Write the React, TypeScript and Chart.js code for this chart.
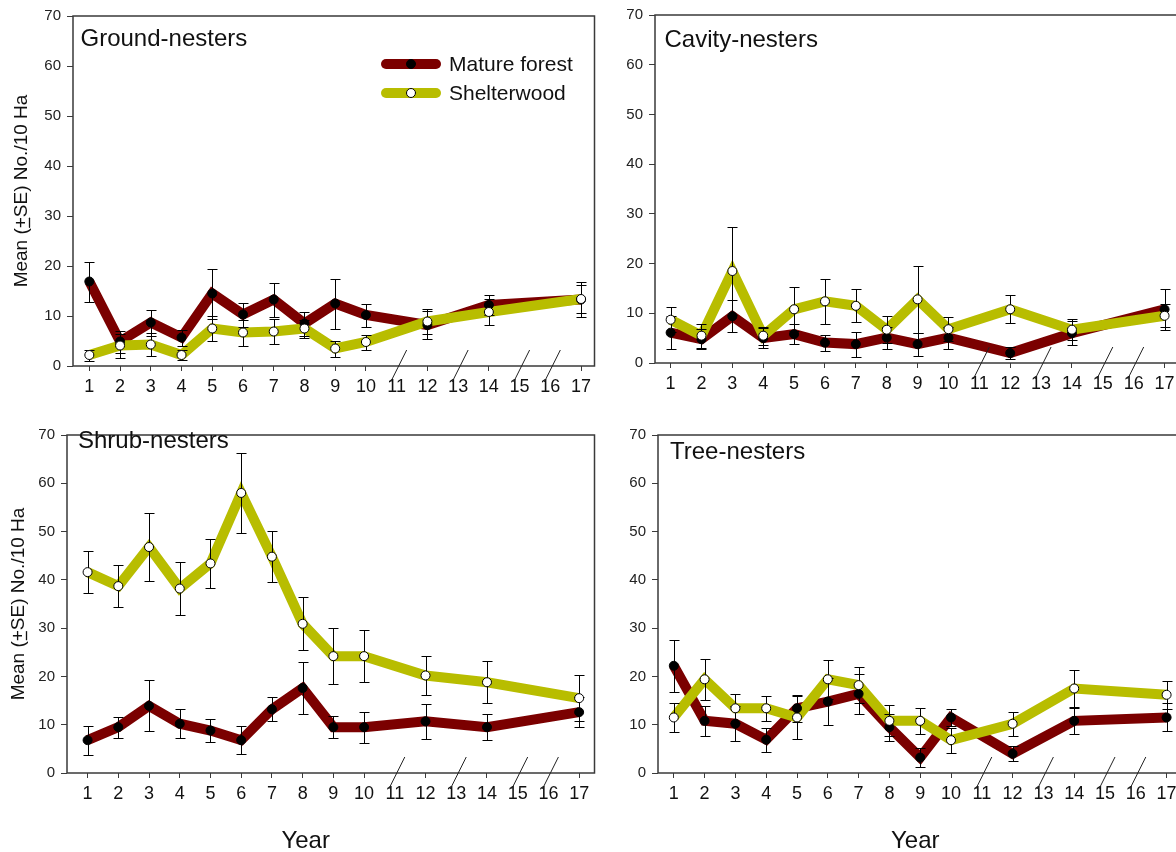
import React, { useEffect, useRef } from "react";
import { Chart, registerables } from "chart.js";

Chart.register(...registerables);

// ---- data ----
const years = [1, 2, 3, 4, 5, 6, 7, 8, 9, 10, 12, 14, 17];
const yearTickLabels = [1, 2, 3, 4, 5, 6, 7, 8, 9, 10, 11, 12, 13, 14, 15, 16, 17];
const missingYears = [11, 13, 15, 16];
const yTickValues = [0, 10, 20, 30, 40, 50, 60, 70];

const seriesNames = ["Mature forest", "Shelterwood"];
const panelTitles = ["Ground-nesters", "Cavity-nesters", "Shrub-nesters", "Tree-nesters"];
const yAxisTitle = ["Mean (", "+", "SE) No./10 Ha"];
const xAxisTitle = "Year";

const groundMature = [16.9, 4.9, 8.7, 5.7, 14.5, 10.3, 13.3, 8.5, 12.5, 10.2, 8.2, 12.2, 13.3];
const groundMatureSE = [4.0, 2.2, 2.6, 1.6, 5.0, 2.4, 3.4, 2.4, 5.0, 2.3, 2.8, 2.0, 3.5];
const groundShelter = [2.2, 4.1, 4.3, 2.2, 7.5, 6.7, 6.9, 7.5, 3.5, 4.8, 8.9, 10.8, 13.4];
const groundShelterSE = [1.1, 2.4, 2.3, 1.0, 2.5, 2.6, 2.5, 1.8, 1.6, 1.5, 2.5, 2.6, 2.8];

const cavityMature = [6.1, 4.8, 9.4, 5.0, 5.8, 4.1, 3.8, 5.1, 3.8, 5.1, 2.0, 6.0, 10.8];
const cavityMatureSE = [3.3, 2.0, 3.2, 2.0, 2.0, 1.6, 2.5, 2.2, 2.3, 2.2, 1.2, 2.4, 4.1];
const cavityShelter = [8.7, 5.5, 18.5, 5.5, 10.8, 12.4, 11.5, 6.7, 12.8, 6.8, 10.8, 6.7, 9.5];
const cavityShelterSE = [2.5, 2.4, 8.8, 1.8, 4.4, 4.5, 3.3, 2.7, 6.7, 2.4, 2.8, 2.1, 2.3];

const shrubMature = [6.8, 9.5, 13.9, 10.2, 8.8, 6.8, 13.2, 17.6, 9.5, 9.5, 10.7, 9.5, 12.6];
const shrubMatureSE = [3.0, 2.2, 5.3, 3.0, 2.4, 2.9, 2.5, 5.3, 2.3, 3.2, 3.6, 2.7, 3.1];
const shrubShelter = [41.6, 38.7, 46.8, 38.2, 43.4, 58.0, 44.8, 30.9, 24.2, 24.2, 20.2, 18.8, 15.5];
const shrubShelterSE = [4.3, 4.4, 7.0, 5.5, 5.0, 8.2, 5.3, 5.5, 5.8, 5.4, 4.1, 4.4, 4.8];

const treeMature = [22.2, 10.8, 10.2, 6.9, 13.4, 14.8, 16.4, 9.5, 3.2, 11.5, 4.0, 10.8, 11.5];
const treeMatureSE = [5.4, 3.1, 3.6, 2.5, 2.8, 4.8, 4.2, 2.8, 2.0, 1.7, 1.6, 2.7, 2.9];
const treeShelter = [11.5, 19.4, 13.4, 13.4, 11.5, 19.4, 18.2, 10.8, 10.8, 6.8, 10.2, 17.5, 16.2];
const treeShelterSE = [3.1, 4.3, 3.0, 2.6, 4.4, 4.0, 3.7, 3.2, 2.7, 2.6, 2.5, 3.8, 2.9];

// ---- styles ----
const FONT = '"Liberation Sans", Arial, Helvetica, sans-serif';
const MATURE_COLOR = "#7b0000";
const SHELTER_COLOR = "#b8bd00";
const AXIS_COLOR = "#3a3a3a";
const TEXT_COLOR = "#111111";

type Box = { left: number; top: number; width: number; height: number };
type Area = { left: number; top: number; right: number; bottom: number };
type Panel = {
  title: string;
  mature: number[];
  matureSE: number[];
  shelter: number[];
  shelterSE: number[];
  box: Box;
  area: Area;
  xMin: number;
  xMax: number;
  titlePos: [number, number];
  yTitleX: number | null;
  yearAt: number | null;
  legend: boolean;
};

const panels: Panel[] = [
  {
    title: panelTitles[0],
    mature: groundMature, matureSE: groundMatureSE,
    shelter: groundShelter, shelterSE: groundShelterSE,
    box: { left: 0, top: 0, width: 600, height: 420 },
    area: { left: 73, top: 16, right: 597, bottom: 366 },
    xMin: 0.469, xMax: 17.437,
    titlePos: [80.5, 45.5],
    yTitleX: 20,
    yearAt: null,
    legend: true,
  },
  {
    title: panelTitles[1],
    mature: cavityMature, matureSE: cavityMatureSE,
    shelter: cavityShelter, shelterSE: cavityShelterSE,
    box: { left: 600, top: 0, width: 600, height: 420 },
    area: { left: 655, top: 14, right: 1180, bottom: 363 },
    xMin: 0.494, xMax: 17.5,
    titlePos: [664.5, 46.5],
    yTitleX: null,
    yearAt: null,
    legend: false,
  },
  {
    title: panelTitles[2],
    mature: shrubMature, matureSE: shrubMatureSE,
    shelter: shrubShelter, shelterSE: shrubShelterSE,
    box: { left: 0, top: 420, width: 600, height: 432 },
    area: { left: 67, top: 424, right: 598, bottom: 773 },
    xMin: 0.33, xMax: 17.5,
    titlePos: [78, 448],
    yTitleX: 17,
    yearAt: 8.1,
    legend: false,
  },
  {
    title: panelTitles[3],
    mature: treeMature, matureSE: treeMatureSE,
    shelter: treeShelter, shelterSE: treeShelterSE,
    box: { left: 600, top: 420, width: 600, height: 432 },
    area: { left: 658, top: 424, right: 1182, bottom: 773 },
    xMin: 0.487, xMax: 17.5,
    titlePos: [670, 459],
    yTitleX: null,
    yearAt: 8.84,
    legend: false,
  },
];

function drawMarker(ctx: CanvasRenderingContext2D, x: number, y: number, filled: boolean) {
  ctx.beginPath();
  ctx.arc(x, y, 4.5, 0, Math.PI * 2);
  ctx.fillStyle = filled ? "#000" : "#fff";
  ctx.fill();
  ctx.lineWidth = 1;
  ctx.strokeStyle = "#000";
  ctx.stroke();
}

function makeOverlay(p: Panel) {
  const ox = p.box.left;
  const oy = p.box.top;
  return {
    id: "panelOverlay",
    afterDatasetDraw(chart: any, args: any) {
      // error bars sit above both lines and below the markers
      if (args.index !== 1) return;
      const ctx: CanvasRenderingContext2D = chart.ctx;
      const xs = chart.scales.x;
      const ys = chart.scales.y;
      ctx.save();
      ctx.strokeStyle = "#000";
      ctx.lineWidth = 1;
      const groups: [number[], number[]][] = [
        [p.mature, p.matureSE],
        [p.shelter, p.shelterSE],
      ];
      groups.forEach(([vals, ses]) => {
        vals.forEach((v, i) => {
          const x = Math.round(xs.getPixelForValue(years[i])) + 0.5;
          const yt = Math.round(ys.getPixelForValue(v + ses[i])) + 0.5;
          const yb = Math.round(ys.getPixelForValue(Math.max(0, v - ses[i]))) + 0.5;
          ctx.beginPath();
          ctx.moveTo(x, yt);
          ctx.lineTo(x, yb);
          ctx.moveTo(x - 5, yt);
          ctx.lineTo(x + 5, yt);
          ctx.moveTo(x - 5, yb);
          ctx.lineTo(x + 5, yb);
          ctx.stroke();
        });
      });
      ctx.restore();
    },
    afterDraw(chart: any) {
      const ctx: CanvasRenderingContext2D = chart.ctx;
      const a = chart.chartArea;
      const xs = chart.scales.x;
      ctx.save();

      // frame
      ctx.strokeStyle = AXIS_COLOR;
      ctx.lineWidth = 1.5;
      ctx.strokeRect(a.left, a.top, a.right - a.left, a.bottom - a.top);

      // break marks over the skipped years
      ctx.strokeStyle = "#222";
      ctx.lineWidth = 1;
      missingYears.forEach((yr) => {
        const x = xs.getPixelForValue(yr);
        ctx.beginPath();
        ctx.moveTo(x - 6, a.bottom + 16);
        ctx.lineTo(x + 10, a.bottom - 16);
        ctx.stroke();
      });

      // panel title
      ctx.fillStyle = TEXT_COLOR;
      ctx.font = `24px ${FONT}`;
      ctx.textAlign = "left";
      ctx.textBaseline = "alphabetic";
      ctx.fillText(p.title, p.titlePos[0] - ox, p.titlePos[1] - oy);

      // legend
      if (p.legend) {
        const rows: [number, string, boolean, string][] = [
          [64, MATURE_COLOR, true, seriesNames[0]],
          [93, SHELTER_COLOR, false, seriesNames[1]],
        ];
        rows.forEach(([ry, color, filled, label]) => {
          const y = ry - oy;
          ctx.beginPath();
          ctx.lineCap = "round";
          ctx.lineWidth = 10;
          ctx.strokeStyle = color;
          ctx.moveTo(386 - ox, y);
          ctx.lineTo(436 - ox, y);
          ctx.stroke();
          drawMarker(ctx, 411 - ox, y, filled);
          ctx.fillStyle = TEXT_COLOR;
          ctx.font = `21px ${FONT}`;
          ctx.textBaseline = "middle";
          ctx.fillText(label, 449 - ox, y + 1);
        });
      }

      // rotated y-axis title with underlined plus sign
      if (p.yTitleX !== null) {
        ctx.font = `19px ${FONT}`;
        ctx.textBaseline = "alphabetic";
        ctx.textAlign = "left";
        const [a1, a2, a3] = yAxisTitle;
        const w1 = ctx.measureText(a1).width;
        const w2 = ctx.measureText(a2).width;
        const w3 = ctx.measureText(a3).width;
        const total = w1 + w2 + w3;
        const cy = (a.top + a.bottom) / 2;
        ctx.translate(p.yTitleX - ox, cy);
        ctx.rotate(-Math.PI / 2);
        const base = 7;
        const x0 = -total / 2;
        ctx.fillStyle = TEXT_COLOR;
        ctx.fillText(a1, x0, base);
        ctx.fillText(a2, x0 + w1, base);
        ctx.fillText(a3, x0 + w1 + w2, base);
        ctx.strokeStyle = TEXT_COLOR;
        ctx.lineWidth = 1.3;
        ctx.beginPath();
        ctx.moveTo(x0 + w1 + 1, base + 2.5);
        ctx.lineTo(x0 + w1 + w2 - 1, base + 2.5);
        ctx.stroke();
        ctx.setTransform(1, 0, 0, 1, 0, 0);
      }

      // x-axis title
      if (p.yearAt !== null) {
        ctx.font = `24px ${FONT}`;
        ctx.textAlign = "center";
        ctx.textBaseline = "alphabetic";
        ctx.fillStyle = TEXT_COLOR;
        ctx.fillText(xAxisTitle, xs.getPixelForValue(p.yearAt), 848 - oy);
      }
      ctx.restore();
    },
  };
}

function PanelChart({ p }: { p: Panel }) {
  const ref = useRef<HTMLCanvasElement | null>(null);

  useEffect(() => {
    if (!ref.current) return;
    const toPoints = (vals: number[]) => vals.map((v, i) => ({ x: years[i], y: v }));
    const chart = new Chart(ref.current, {
      type: "line",
      data: {
        datasets: [
          {
            label: seriesNames[0],
            data: toPoints(p.mature),
            borderColor: MATURE_COLOR,
            borderWidth: 10,
            pointRadius: 0,
            tension: 0,
            order: 4,
          },
          {
            label: seriesNames[1],
            data: toPoints(p.shelter),
            borderColor: SHELTER_COLOR,
            borderWidth: 10,
            pointRadius: 0,
            tension: 0,
            order: 3,
          },
          {
            label: seriesNames[0] + " points",
            data: toPoints(p.mature),
            showLine: false,
            pointRadius: 4.5,
            pointBackgroundColor: "#000",
            pointBorderColor: "#000",
            pointBorderWidth: 1,
            order: 2,
          },
          {
            label: seriesNames[1] + " points",
            data: toPoints(p.shelter),
            showLine: false,
            pointRadius: 4.5,
            pointBackgroundColor: "#fff",
            pointBorderColor: "#000",
            pointBorderWidth: 1,
            order: 1,
          },
        ],
      },
      options: {
        responsive: false,
        animation: false,
        devicePixelRatio: 1,
        layout: {
          padding: {
            left: 0,
            top: p.area.top - p.box.top,
            right: p.box.left + p.box.width - p.area.right,
            bottom: 0,
          },
        },
        plugins: {
          legend: { display: false },
          title: { display: false },
          tooltip: { enabled: false },
        },
        scales: {
          x: {
            type: "linear",
            min: p.xMin,
            max: p.xMax,
            afterBuildTicks: (s: any) => {
              s.ticks = yearTickLabels.map((v) => ({ value: v }));
            },
            afterFit: (s: any) => {
              s.height = p.box.top + p.box.height - p.area.bottom;
            },
            grid: {
              drawOnChartArea: false,
              drawTicks: true,
              tickLength: 5,
              tickWidth: 1,
              tickColor: (c: any) =>
                c.tick && missingYears.includes(c.tick.value) ? "rgba(0,0,0,0)" : AXIS_COLOR,
            },
            border: { display: false },
            ticks: {
              autoSkip: false,
              maxRotation: 0,
              padding: 5,
              color: TEXT_COLOR,
              font: { family: FONT, size: 18 },
              callback: (v: any) => String(v),
            },
          },
          y: {
            type: "linear",
            min: 0,
            max: 70,
            afterBuildTicks: (s: any) => {
              s.ticks = yTickValues.map((v) => ({ value: v }));
            },
            afterFit: (s: any) => {
              s.width = p.area.left - p.box.left;
            },
            grid: {
              drawOnChartArea: false,
              drawTicks: true,
              tickLength: 6,
              tickWidth: 1,
              tickColor: AXIS_COLOR,
            },
            border: { display: false },
            ticks: {
              padding: 6,
              color: "#222",
              font: { family: FONT, size: 15 },
            },
          },
        },
      },
      plugins: [makeOverlay(p)],
    } as any);
    return () => chart.destroy();
  }, [p]);

  return (
    <canvas
      ref={ref}
      width={p.box.width}
      height={p.box.height}
      style={{
        position: "absolute",
        left: p.box.left,
        top: p.box.top,
        width: p.box.width,
        height: p.box.height,
      }}
    />
  );
}

export default function App() {
  return (
    <div
      style={{
        position: "fixed",
        left: 0,
        top: 0,
        width: 1176,
        height: 852,
        overflow: "hidden",
        background: "#ffffff",
      }}
    >
      {panels.map((p) => (
        <PanelChart key={p.title} p={p} />
      ))}
    </div>
  );
}
